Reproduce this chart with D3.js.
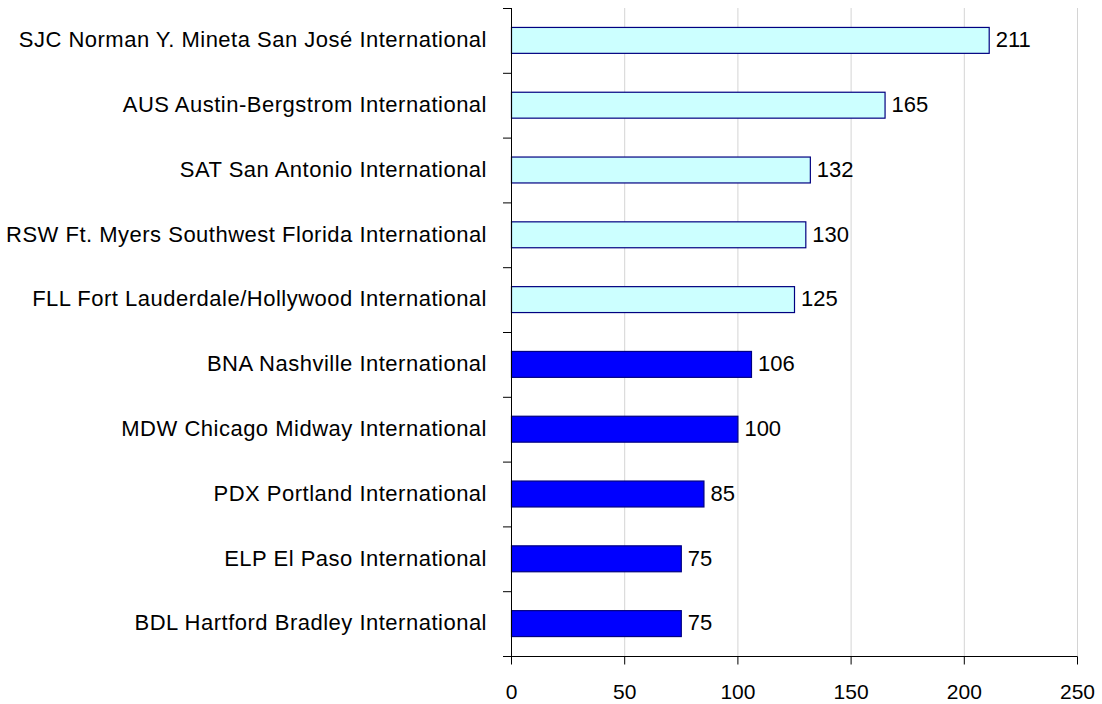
<!DOCTYPE html>
<html>
<head>
<meta charset="utf-8">
<script src="https://cdn.jsdelivr.net/npm/d3@7"></script>
<style>
  body { margin: 0; background: #fff; }
  text { font-family: "Liberation Sans", Arial, sans-serif; }
</style>
</head>
<body>
<div class="canvas"></div>
<script>
const airports = [
  "SJC Norman Y. Mineta San José International",
  "AUS Austin-Bergstrom International",
  "SAT San Antonio International",
  "RSW Ft. Myers Southwest Florida International",
  "FLL Fort Lauderdale/Hollywood International",
  "BNA Nashville International",
  "MDW Chicago Midway International",
  "PDX Portland International",
  "ELP El Paso International",
  "BDL Hartford Bradley International"
];
const values = [211, 165, 132, 130, 125, 106, 100, 85, 75, 75];
const highlighted = [true, true, true, true, true, false, false, false, false, false];
const xTicks = [0, 50, 100, 150, 200, 250];

const width = 1102, height = 704;
const plotLeft = 511, plotRight = 1077, plotTop = 8, plotBottom = 656;

const svg = d3.select(".canvas").append("svg")
  .attr("width", width)
  .attr("height", height);

const x = d3.scaleLinear().domain([0, 250]).range([plotLeft, plotRight]);
const y = d3.scaleBand().domain(airports).range([plotTop, plotBottom]).paddingInner(0.6).paddingOuter(0.3);
const band = d3.scaleBand().domain(airports).range([plotTop, plotBottom]);

// gridlines
svg.append("g")
  .selectAll("line")
  .data(xTicks.slice(1))
  .enter()
  .append("line")
  .attr("x1", d => x(d) + 0.5)
  .attr("x2", d => x(d) + 0.5)
  .attr("y1", plotTop)
  .attr("y2", plotBottom)
  .attr("stroke", "#d4d4d4")
  .attr("stroke-width", 1);

// bars
svg.append("g")
  .selectAll("rect")
  .data(values)
  .enter()
  .append("rect")
  .attr("x", x(0) + 0.5)
  .attr("y", (d, i) => y(airports[i]))
  .attr("width", d => x(d) - x(0))
  .attr("height", y.bandwidth())
  .attr("fill", (d, i) => highlighted[i] ? "#ccffff" : "#0000ff")
  .attr("stroke", "#000080")
  .attr("stroke-width", 1.2);

// value labels
svg.append("g")
  .selectAll("text")
  .data(values)
  .enter()
  .append("text")
  .attr("x", d => x(d) + 7)
  .attr("y", (d, i) => y(airports[i]) + y.bandwidth() / 2)
  .attr("dy", "0.31em")
  .attr("font-size", 22)
  .attr("fill", "#000")
  .text(d => d);

// y axis
const yAxis = svg.append("g").attr("stroke", "#000");
yAxis.append("line")
  .attr("x1", plotLeft + 0.5).attr("x2", plotLeft + 0.5)
  .attr("y1", plotTop).attr("y2", plotBottom);
yAxis.selectAll(".tk")
  .data(airports.concat([null]))
  .enter()
  .append("line")
  .attr("x1", plotLeft - 8).attr("x2", plotLeft)
  .attr("y1", (d, i) => (i < airports.length ? band(d) : plotBottom) + 0.5)
  .attr("y2", (d, i) => (i < airports.length ? band(d) : plotBottom) + 0.5);

svg.append("g")
  .selectAll("text")
  .data(airports)
  .enter()
  .append("text")
  .attr("x", 487)
  .attr("y", d => band(d) + band.bandwidth() / 2)
  .attr("dy", "0.31em")
  .attr("text-anchor", "end")
  .attr("font-size", 22)
  .attr("letter-spacing", 0.5)
  .attr("fill", "#000")
  .text(d => d);

// x axis
const xAxis = svg.append("g").attr("transform", `translate(0,${plotBottom + 0.5})`)
  .call(d3.axisBottom(x).tickValues(xTicks).tickSize(8).tickPadding(20).tickSizeOuter(0));
xAxis.select(".domain").attr("stroke", "#000").attr("d", `M${plotLeft - 8},0H${plotRight + 0.5}`);
xAxis.selectAll("line").attr("stroke", "#000");
xAxis.selectAll("text")
  .attr("font-size", 21)
  .attr("font-family", "Liberation Sans, Arial, sans-serif")
  .attr("fill", "#000");
</script>
</body>
</html>
